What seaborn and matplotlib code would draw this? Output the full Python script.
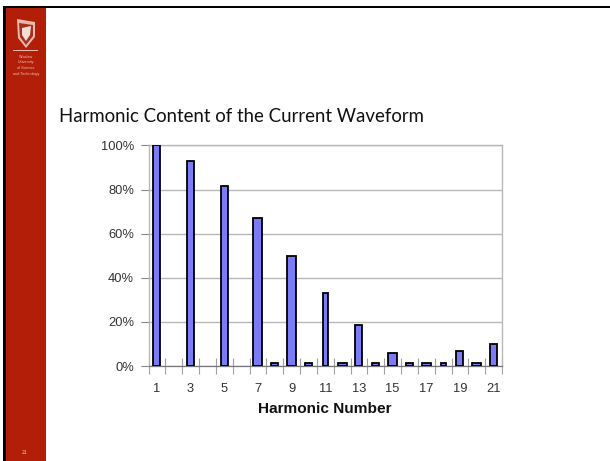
"""Harmonic content of the current waveform, drawn as a lecture slide."""
import matplotlib
matplotlib.use("Agg")

import matplotlib.pyplot as plt
import numpy as np
import pandas as pd
import seaborn as sns
from matplotlib.patches import Polygon, Rectangle
from matplotlib.ticker import FixedLocator, PercentFormatter

W, H = 610, 461

HARMONICS = list(range(1, 22))
CONTENT = [100, np.nan, 93, np.nan, 81.5, np.nan, 67, 1.5, 50, 1.5, 33,
           1.5, 18.5, 1.5, 6, 1.5, 1.5, 1.5, 7, 1.5, 10]
TICK_LABELS = [str(h) if h % 2 else "" for h in HARMONICS]
Y_TICKS = [0, 20, 40, 60, 80, 100]

# bar widths in the original vary a bit, pixel snapping of the old chart
BAR_PX = {1: 8, 3: 8, 5: 8, 7: 10, 8: 8, 9: 10, 10: 8, 11: 6, 12: 10, 13: 8,
          14: 8, 15: 10, 16: 8, 17: 10, 18: 6, 19: 8, 20: 10, 21: 8}

RED = "#b21e07"
BAR = "#7b7bf7"
GRID = "#b8b8b8"


def box(left, top, right, bottom):
    """Pixel box (y down) to figure fractions."""
    return [left / W, 1 - bottom / H, (right - left) / W, (bottom - top) / H]


def poly(fig, points, color):
    fig.add_artist(Polygon([(x / W, 1 - y / H) for x, y in points], transform=fig.transFigure,
                           fc=color, ec="none"))


def draw_slide(fig):
    fig.add_artist(Rectangle((6 / W, 0), 40 / W, 1 - 8 / H, transform=fig.transFigure,
                             color=RED, lw=0))
    fig.add_artist(Rectangle((3 / W, 0), 3 / W, 1 - 6 / H, transform=fig.transFigure,
                             color="black", lw=0))
    fig.add_artist(Rectangle((3 / W, 1 - 8 / H), 1 - 3 / W, 2 / H, transform=fig.transFigure,
                             color="black", lw=0))

    # crest: pale shield, red field, pale eagle
    poly(fig, [(17, 19), (35, 22), (35, 37), (26, 48), (18, 38)], "#e8b9ad")
    poly(fig, [(19, 23), (33, 25), (33, 36), (26, 45), (20, 37)], "#a5301e")
    poly(fig, [(22, 28), (31, 26), (30, 35), (26, 41), (22, 35)], "#f2dcd5")
    fig.add_artist(Rectangle((13 / W, 1 - 51.5 / H), 25 / W, 1.2 / H, transform=fig.transFigure,
                             color="#e9b8ac", lw=0))
    for y, line in zip((57, 62.5, 68, 74), ("Wrocław", "University", "of Science", "and Technology")):
        fig.text(26 / W, 1 - y / H, line, color="#eebfb3", fontsize=2.7, ha="center", va="center",
                 family="Liberation Sans")
    fig.text(24 / W, 1 - 452 / H, "21", color="#f0c8c0", fontsize=3.6, ha="center", va="center",
             family="Liberation Sans")

    fig.text(59 / W, 1 - 116 / H, "Harmonic Content of the Current Waveform",
             fontsize=13.4, family="Lato", ha="left", va="center", color="#111111")


def main():
    sns.set_theme(style="white")
    plt.rcParams["font.family"] = ["Liberation Sans", "DejaVu Sans"]

    df = pd.DataFrame({"harmonic": HARMONICS, "content": CONTENT})

    fig = plt.figure(figsize=(W / 100, H / 100), dpi=100, facecolor="white")
    draw_slide(fig)

    ax = fig.add_axes(box(148.5, 145.5, 502, 366))
    sns.barplot(data=df, x="harmonic", y="content", order=HARMONICS, color=BAR, saturation=1,
                width=0.5, edgecolor="black", linewidth=1.3, ax=ax, zorder=3)

    px = ax.get_window_extent().width / len(HARMONICS)
    drawn = [h for h, v in zip(HARMONICS, CONTENT) if not np.isnan(v)]
    bars = [p for p in ax.patches if not np.isnan(p.get_height())]
    for harmonic, patch in zip(drawn, bars):
        new_w = (BAR_PX[harmonic] - 1) / px
        patch.set_x(patch.get_x() + patch.get_width() / 2 - new_w / 2)
        patch.set_width(new_w)

    ax.set_xlim(-0.5, len(HARMONICS) - 0.5)
    ax.set_ylim(0, 100)
    ax.set_xlabel("Harmonic Number", fontsize=11.1, fontweight="bold", labelpad=5, color="#111111")
    ax.set_ylabel("")
    ax.xaxis.set_major_locator(FixedLocator(range(len(HARMONICS))))
    ax.set_xticklabels(TICK_LABELS)
    ax.xaxis.set_minor_locator(FixedLocator(np.arange(-0.5, len(HARMONICS))))
    ax.set_yticks(Y_TICKS)
    ax.yaxis.set_major_formatter(PercentFormatter(100, decimals=0))

    ax.grid(axis="y", color=GRID, lw=1, zorder=0)
    ax.set_axisbelow(True)
    ax.tick_params(axis="x", which="major", length=0, labelsize=9.3, pad=12.5, labelcolor="#333333")
    ax.tick_params(axis="x", which="minor", bottom=True, direction="inout", length=12, width=0.8, color="#a0a0a0")
    ax.tick_params(axis="y", left=True, length=6, width=0.8, color="#888888", labelsize=9.3, pad=4.5,
                   labelcolor="#333333")
    for side in ("top", "left", "right"):
        ax.spines[side].set_color(GRID)
        ax.spines[side].set_linewidth(1)
    ax.spines["bottom"].set_color("#777777")
    ax.spines["bottom"].set_linewidth(0.9)

    fig.savefig("out.png", dpi=100)


if __name__ == "__main__":
    main()
